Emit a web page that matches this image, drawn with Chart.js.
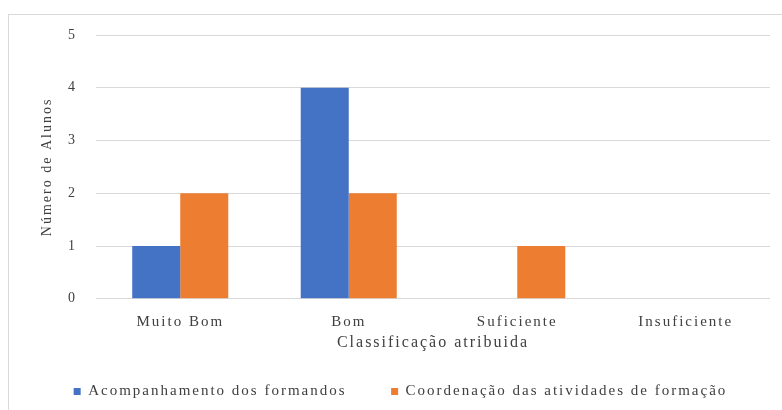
<!DOCTYPE html>
<html>
<head>
<meta charset="utf-8">
<script src="https://cdn.jsdelivr.net/npm/chart.js@4/dist/chart.umd.min.js"></script>
<style>
  html, body { margin: 0; padding: 0; background: #fff; overflow: hidden; }
  #box {
    position: absolute; left: 8px; top: 14px; width: 774px; height: 396px;
    border-top: 1px solid #d9d9d9; border-left: 1px solid #d9d9d9;
    box-sizing: border-box;
  }
</style>
</head>
<body>
<div id="box"><canvas id="chart"></canvas></div>
<script>
const categories = ["Muito Bom", "Bom", "Suficiente", "Insuficiente"];
const acompanhamento = [1, 4, 0, 0];
const coordenacao = [2, 2, 1, 0];
const yTicks = [0, 1, 2, 3, 4, 5];

const serif = "'Liberation Serif', 'Times New Roman', serif";

// the reference text is stretched sideways, widen it with letter spacing
const spacing = {
  id: "spacing",
  beforeUpdate: (chart) => { chart.ctx.letterSpacing = "2px"; },
  beforeDraw: (chart) => { chart.ctx.letterSpacing = "2px"; },
};

new Chart(document.getElementById("chart"), {
  type: "bar",
  plugins: [spacing],
  data: {
    labels: categories,
    datasets: [
      {
        label: "Acompanhamento dos formandos",
        data: acompanhamento,
        backgroundColor: "#4472c4",
      },
      {
        label: "Coordenação das atividades de formação",
        data: coordenacao,
        backgroundColor: "#ed7d31",
      },
    ],
  },
  options: {
    responsive: true,
    maintainAspectRatio: false,
    animation: false,
    layout: { padding: { top: 20, right: 12, left: 22, bottom: 1 } },
    datasets: { bar: { categoryPercentage: 0.57, barPercentage: 1 } },
    plugins: {
      tooltip: { enabled: false },
      legend: {
        position: "bottom",
        labels: {
          boxWidth: 7,
          boxHeight: 7,
          padding: 10,
          color: "#404040",
          font: { family: serif, size: 15 },
          // wider gap between the two entries, as in the original
          generateLabels: (chart) => {
            const items = Chart.defaults.plugins.legend.labels.generateLabels(chart);
            items[0].text += "\u00a0".repeat(6);
            return items;
          },
        },
      },
    },
    scales: {
      x: {
        grid: { display: false, drawTicks: false },
        border: { display: false },
        ticks: { padding: 14, color: "#404040", font: { family: serif, size: 15 } },
        title: {
          display: true,
          text: "Classificação atribuida",
          color: "#404040",
          font: { family: serif, size: 16 },
          padding: { top: -12, bottom: 22 },
        },
      },
      y: {
        min: 0,
        max: 5,
        afterBuildTicks: (scale) => {
          scale.ticks = yTicks.map((v) => ({ value: v }));
        },
        afterFit: (scale) => {
          scale.width = 65;
          scale.paddingTop = 0;
          scale.paddingBottom = 0;
        },
        grid: { color: "#d9d9d9", drawTicks: false },
        border: { display: false },
        ticks: { padding: 19, color: "#404040", font: { family: serif, size: 14 } },
        title: {
          display: true,
          text: "Número de Alunos",
          color: "#404040",
          font: { family: serif, size: 14 },
          padding: { top: 8, bottom: 0 },
        },
      },
    },
  },
});
</script>
</body>
</html>
